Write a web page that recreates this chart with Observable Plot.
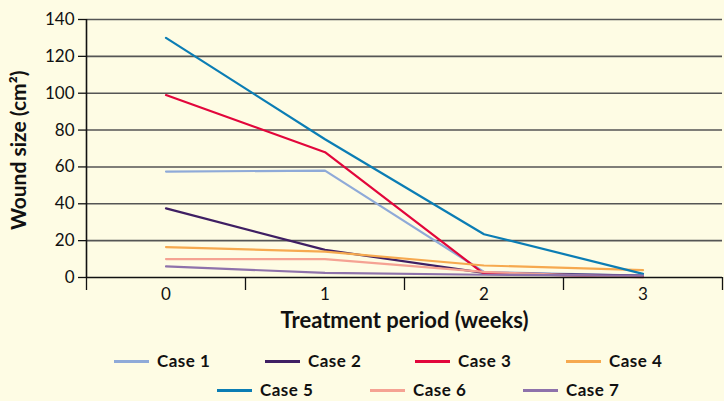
<!DOCTYPE html>
<html><head><meta charset="utf-8">
<script src="https://cdn.jsdelivr.net/npm/d3@7"></script>
<script src="https://cdn.jsdelivr.net/npm/@observablehq/plot@0.6"></script>
<style>
html,body{margin:0;padding:0;background:#fefce4;}
#wrap{position:relative;width:724px;height:401px;background:#fefce4;font-family:Lato,"Open Sans",sans-serif;overflow:hidden;}
#legend{position:absolute;left:0;top:0;width:724px;height:401px;pointer-events:none;}
.item{position:absolute;display:flex;align-items:center;font-weight:bold;font-size:17px;letter-spacing:0.5px;color:#111;line-height:20px;}
.sw{display:inline-block;width:35px;height:3px;margin-right:8px;}
</style></head>
<body><div id="wrap"><div id="chart"></div><div id="legend"></div></div>
<script>
const weeks = [0, 1, 2, 3];
const caseNames = ["Case 1","Case 2","Case 3","Case 4","Case 5","Case 6","Case 7"];
const case1 = [57.5, 58, 3, 1];
const case2 = [37.5, 15, 2.5, 1];
const case3 = [99, 68, 2, 0.5];
const case4 = [16.5, 14, 6.5, 4];
const case5 = [130, 75, 23.5, 2];
const case6 = [10, 10, 3, 0];
const case7 = [6, 2.5, 1.5, 1];
const caseColors = ["#8faad8","#3f1f63","#e2063b","#f6a94f","#0b7db4","#f5a293","#8e72ab"];
const yTicks = [0,20,40,60,80,100,120,140];
const xTickLabels = ["0","1","2","3"];
const xBoundaries = [-0.5, 0.5, 1.5, 2.5, 3.5];

const series = [case1,case2,case3,case4,case5,case6,case7];
const data = [];
series.forEach((s,i)=>s.forEach((v,j)=>data.push({case:caseNames[i], week:weeks[j], value:v})));

const chart = Plot.plot({
  width: 724, height: 340,
  marginLeft: 86, marginRight: 2, marginTop: 19, marginBottom: 63,
  style: {background:"transparent", fontFamily:"Lato, 'Open Sans', sans-serif", color:"#111"},
  x: {domain:[-0.5,3.5], axis:null},
  y: {domain:[0,140], axis:null},
  color: {domain: caseNames, range: caseColors},
  marks: [
    Plot.ruleY(yTicks.filter(d=>d>0), {stroke:"#555", strokeWidth:1.6}),
    Plot.axisX(xBoundaries, {tickSize:13, tickFormat:()=>"", stroke:"#111", strokeWidth:1.3, label:null}),
    Plot.axisX(weeks, {tickSize:0, tickPadding:10, tickFormat:(d,i)=>xTickLabels[i], fontSize:17, label:null}),
    Plot.axisY(yTicks, {tickSize:8, tickPadding:4, fontSize:17, stroke:"#111", strokeWidth:1.3, label:null}),
    Plot.line(data, {x:"week", y:"value", z:"case", stroke:"case", strokeWidth:2.2}),
    Plot.ruleY([0], {stroke:"#111", strokeWidth:1.6}),
    Plot.ruleX([-0.5], {stroke:"#111", strokeWidth:1.6}),
    Plot.text(["Treatment period (weeks)"], {x:1.5, y:0, dy:43, fontWeight:"bold", fontSize:22, letterSpacing:0.8}),
    Plot.text(["Wound size (cm²)"], {x:-0.5, y:69, dx:-67, rotate:-90, fontWeight:"bold", fontSize:21, letterSpacing:1.6})
  ]
});
document.getElementById("chart").append(chart);

const pos = [[114,361],[265,361],[415,361],[566,361],[217,390],[370,390],[523,390]];
const leg = document.getElementById("legend");
caseNames.forEach((n,i)=>{
  const d = document.createElement("div");
  d.className = "item";
  d.style.left = pos[i][0]+"px";
  d.style.top = (pos[i][1]-10)+"px";
  d.innerHTML = `<span class="sw" style="background:${caseColors[i]}"></span><span>${n}</span>`;
  leg.append(d);
});
</script></body></html>
